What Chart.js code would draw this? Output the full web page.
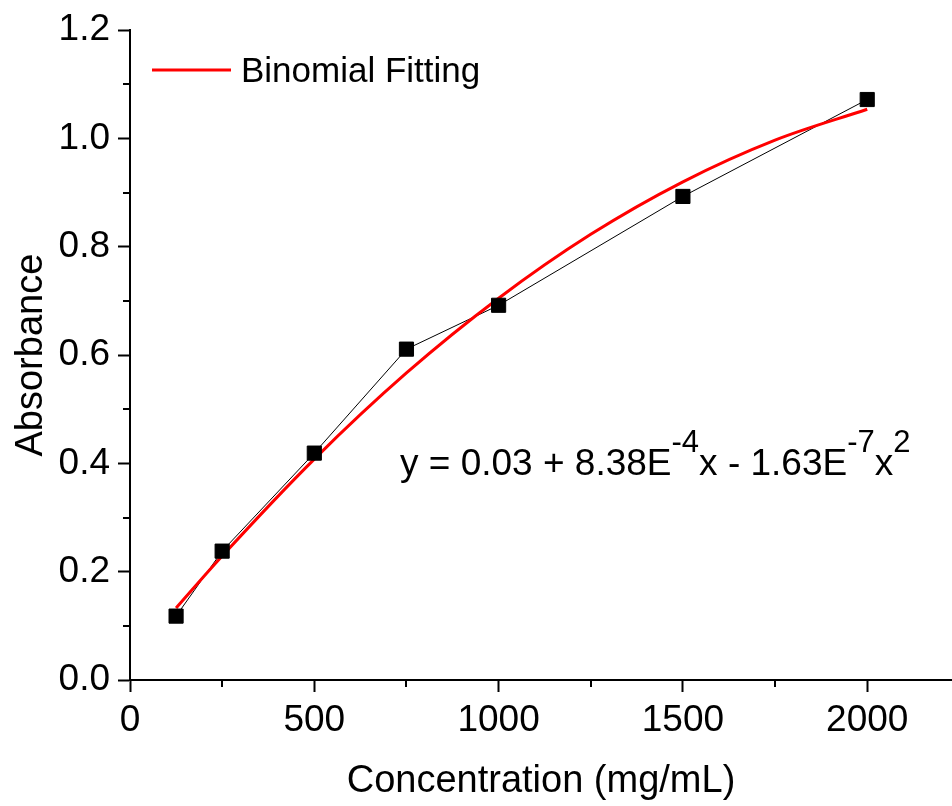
<!DOCTYPE html>
<html>
<head>
<meta charset="utf-8">
<script src="https://cdn.jsdelivr.net/npm/chart.js@4.4.1/dist/chart.umd.min.js"></script>
<style>
  html, body { margin: 0; padding: 0; background: #fff; }
  canvas { display: block; }
</style>
</head>
<body>
<canvas id="chart" width="952" height="806"></canvas>
<script>
// measured points
const concentration = [125, 250, 500, 750, 1000, 1500, 2000];
const absorbance = [0.118, 0.238, 0.419, 0.611, 0.692, 0.893, 1.072];

// red fitted curve
const fitX = [125, 250, 500, 750, 1000, 1250, 1500, 1750, 2000];
const fitY = [0.133, 0.229, 0.408, 0.567, 0.705, 0.823, 0.920, 0.997, 1.054];

// tick positions (majors carry a label, minors get a short mark)
const xTickValues = [0, 250, 500, 750, 1000, 1250, 1500, 1750, 2000];
const xTickLabels = ["0", "", "500", "", "1000", "", "1500", "", "2000"];
const yTickValues = [0, 0.1, 0.2, 0.3, 0.4, 0.5, 0.6, 0.7, 0.8, 0.9, 1.0, 1.1, 1.2];
const yTickLabels = ["0.0", "", "0.2", "", "0.4", "", "0.6", "", "0.8", "", "1.0", "", "1.2"];

const FONT = "'Liberation Sans', Arial, Helvetica, sans-serif";

const toXY = (xs, ys) => xs.map((x, i) => ({ x: x, y: ys[i] }));

const labelAt = (values, labels, v) => {
  const i = values.findIndex((t) => Math.abs(t - v) < 1e-6);
  return i < 0 ? "" : labels[i];
};
const isMajor = (values, labels, v) => labelAt(values, labels, v) !== "";

// short minor ticks, drawn from the scales
const minorTicks = {
  id: "minorTicks",
  afterDraw(chart) {
    const ctx = chart.ctx;
    const xs = chart.scales.x, ys = chart.scales.y;
    ctx.save();
    ctx.strokeStyle = "#000";
    ctx.lineWidth = 2;
    ys.ticks.forEach((t) => {
      if (isMajor(yTickValues, yTickLabels, t.value)) return;
      const py = Math.round(ys.getPixelForValue(t.value));
      ctx.beginPath();
      ctx.moveTo(ys.right, py);
      ctx.lineTo(ys.right - 7, py);
      ctx.stroke();
    });
    xs.ticks.forEach((t) => {
      if (isMajor(xTickValues, xTickLabels, t.value)) return;
      const px = Math.round(xs.getPixelForValue(t.value));
      ctx.beginPath();
      ctx.moveTo(px, xs.top);
      ctx.lineTo(px, xs.top + 7);
      ctx.stroke();
    });
    ctx.restore();
  }
};

// legend and equation text inside the plot
const annotations = {
  id: "annotations",
  afterDraw(chart) {
    const ctx = chart.ctx;
    ctx.save();
    // legend
    ctx.strokeStyle = "#ff0000";
    ctx.lineWidth = 3;
    ctx.beginPath();
    ctx.moveTo(152, 70);
    ctx.lineTo(231, 70);
    ctx.stroke();
    ctx.fillStyle = "#000";
    ctx.textBaseline = "alphabetic";
    ctx.font = "35px " + FONT;
    ctx.fillText("Binomial Fitting", 241, 82);

    // equation with superscripts
    const parts = [
      ["y = 0.03 + 8.38E", false],
      ["-4", true],
      ["x - 1.63E", false],
      ["-7", true],
      ["x", false],
      ["2", true]
    ];
    let x = 400;
    const base = 475;
    parts.forEach(([txt, sup]) => {
      ctx.font = (sup ? "31px " : "37px ") + FONT;
      ctx.fillText(txt, x, sup ? base - 23 : base);
      x += ctx.measureText(txt).width;
    });
    ctx.restore();
  }
};

new Chart(document.getElementById("chart").getContext("2d"), {
  type: "scatter",
  data: {
    datasets: [
      {
        label: "Absorbance",
        data: toXY(concentration, absorbance),
        showLine: true,
        borderColor: "#000",
        borderWidth: 1,
        pointRadius: 0,
        order: 2
      },
      {
        label: "Binomial Fitting",
        data: toXY(fitX, fitY),
        showLine: true,
        borderColor: "#ff0000",
        borderWidth: 3,
        pointRadius: 0,
        cubicInterpolationMode: "monotone",
        order: 1
      },
      {
        label: "points",
        data: toXY(concentration, absorbance),
        showLine: false,
        pointStyle: "rect",
        pointRadius: 10,
        pointBackgroundColor: "#000",
        pointBorderColor: "#000",
        pointBorderWidth: 1,
        order: 0
      }
    ]
  },
  options: {
    responsive: false,
    animation: false,
    layout: { autoPadding: false, padding: { top: 28, right: 0, left: 0, bottom: 0 } },
    plugins: {
      legend: { display: false },
      tooltip: { enabled: false }
    },
    scales: {
      x: {
        type: "linear",
        min: 0,
        max: 2230,
        bounds: "data",
        afterBuildTicks: (s) => { s.ticks = xTickValues.map((v) => ({ value: v })); },
        afterFit: (s) => { s.height = 126; },
        border: { display: true, color: "#000", width: 2 },
        grid: {
          drawOnChartArea: false,
          drawTicks: true,
          tickLength: 12,
          tickWidth: 2,
          tickColor: (c) => (c.tick && isMajor(xTickValues, xTickLabels, c.tick.value) ? "#000" : "rgba(0,0,0,0)")
        },
        ticks: {
          maxRotation: 0,
          autoSkip: false,
          padding: 7,
          color: "#000",
          font: { family: FONT, size: 37 },
          callback: (v) => labelAt(xTickValues, xTickLabels, v)
        },
        title: {
          display: true,
          text: "Concentration (mg/mL)",
          color: "#000",
          font: { family: FONT, size: 38, lineHeight: 1.2 },
          padding: { top: 0, bottom: 2 }
        }
      },
      y: {
        min: 0,
        max: 1.2,
        bounds: "data",
        afterBuildTicks: (s) => { s.ticks = yTickValues.map((v) => ({ value: v })); },
        afterFit: (s) => { s.width = 130; },
        border: { display: true, color: "#000", width: 2 },
        grid: {
          drawOnChartArea: false,
          drawTicks: true,
          tickLength: 12,
          tickWidth: 2,
          tickColor: (c) => (c.tick && isMajor(yTickValues, yTickLabels, c.tick.value) ? "#000" : "rgba(0,0,0,0)")
        },
        ticks: {
          autoSkip: false,
          padding: 8,
          color: "#000",
          font: { family: FONT, size: 37 },
          callback: (v) => labelAt(yTickValues, yTickLabels, v)
        },
        title: {
          display: true,
          text: "Absorbance",
          color: "#000",
          font: { family: FONT, size: 38, lineHeight: 1.2 },
          padding: { top: 9, bottom: 0 }
        }
      }
    }
  },
  plugins: [minorTicks, annotations]
});
</script>
</body>
</html>
